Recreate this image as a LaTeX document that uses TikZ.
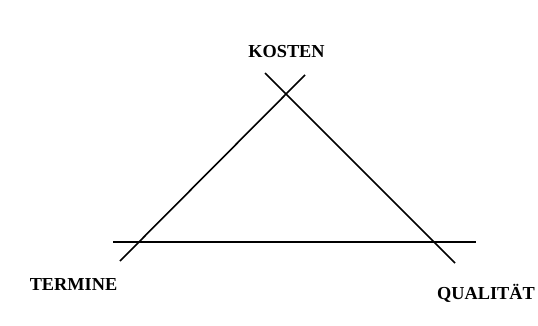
\documentclass[tikz,border=0pt]{standalone}
\usepackage{fontspec}
\setmainfont{Liberation Serif}
\usetikzlibrary{positioning,calc}

\begin{document}
\begin{tikzpicture}[
  x=1pt, y=1pt,
  lbl/.style={font=\fontsize{18.3}{20}\selectfont\bfseries, inner sep=0pt, anchor=base},
  ln/.style={line width=1.6pt, draw=black}
]
\useasboundingbox (0,0) rectangle (538,325);

\node[lbl] (kosten) at (286.5,268) {KOSTEN};
\node[lbl] (termine) at (73.5,35) {TERMINE};
\node[lbl] (qualitaet) at (486,26) {QUALITÄT};

% ends of the three sides
\coordinate (l1) at (120,64);
\coordinate (l2) at (305,250);
\coordinate (r1) at (265,252);
\coordinate (r2) at (455,62);
\coordinate (h1) at (113,83);
\coordinate (h2) at (476,83);

\draw[ln] (l1) -- (l2);
\draw[ln] (r1) -- (r2);
\draw[ln] (h1) -- (h2);
\end{tikzpicture}
\end{document}
